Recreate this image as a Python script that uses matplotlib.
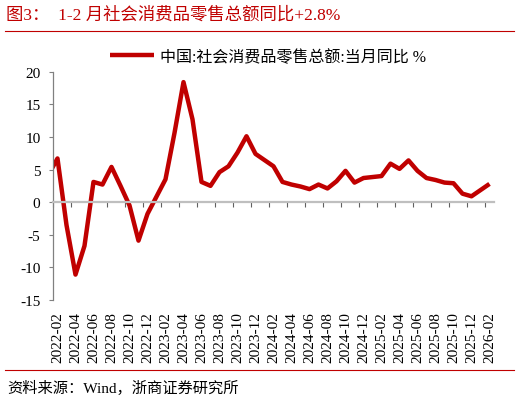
import numpy as np
import pandas as pd
import matplotlib
matplotlib.use('Agg')
import matplotlib.pyplot as plt
from matplotlib.lines import Line2D

plt.rcParams['font.family'] = ['Liberation Serif', 'Noto Sans CJK SC']
plt.rcParams['axes.unicode_minus'] = False

# monthly categories shown on the axis: 2022-02 .. 2026-02
months = [str(p) for p in pd.period_range('2022-02', '2026-02', freq='M')]

# reported months (China reports Jan-Feb together, so no January values)
obs_months = ['2021-12',
              '2022-02', '2022-03', '2022-04', '2022-05', '2022-06', '2022-07',
              '2022-08', '2022-09', '2022-10', '2022-11', '2022-12',
              '2023-02', '2023-03', '2023-04', '2023-05', '2023-06', '2023-07',
              '2023-08', '2023-09', '2023-10', '2023-11', '2023-12',
              '2024-02', '2024-03', '2024-04', '2024-05', '2024-06', '2024-07',
              '2024-08', '2024-09', '2024-10', '2024-11', '2024-12',
              '2025-02', '2025-03', '2025-04', '2025-05', '2025-06', '2025-07',
              '2025-08', '2025-09', '2025-10', '2025-11', '2025-12',
              '2026-02']
obs_values = [1.7,
              6.7, -3.5, -11.1, -6.7, 3.1, 2.7,
              5.4, 2.5, -0.5, -5.9, -1.8,
              3.5, 10.6, 18.4, 12.7, 3.1, 2.5,
              4.6, 5.5, 7.6, 10.1, 7.4,
              5.5, 3.1, 2.7, 2.4, 2.0, 2.7,
              2.1, 3.2, 4.8, 3.0, 3.7,
              4.0, 5.9, 5.1, 6.4, 4.8, 3.7,
              3.4, 3.0, 2.9, 1.3, 0.9,
              2.8]

series_name = '中国:社会消费品零售总额:当月同比 %'
title = '图3：  1-2 月社会消费品零售总额同比+2.8%'
source = '资料来源：Wind，浙商证券研究所'
red = '#C00000'

# category index of each observation (relative to 2022-02)
start = pd.Period('2022-02', freq='M')
xpos = [(pd.Period(m, freq='M') - start).n for m in obs_months]

fig = plt.figure(figsize=(5.2, 4.02), dpi=100)
ax = fig.add_axes([0.1019, 0.2512, 0.8481, 0.568])

ax.plot(xpos, obs_values, color=red, lw=3.2, solid_joinstyle='round',
        solid_capstyle='butt', label=series_name)

ax.set_xlim(-0.5, len(months) - 0.5)
ax.set_ylim(-15, 20)
ax.set_yticks(np.arange(-15, 21, 5))

for s in ['top', 'right']:
    ax.spines[s].set_visible(False)
ax.spines['left'].set_color('#808080')
ax.spines['left'].set_linewidth(0.9)
ax.spines['bottom'].set_position(('data', 0))
ax.spines['bottom'].set_color('#BFBFBF')
ax.spines['bottom'].set_linewidth(1.6)

ax.tick_params(axis='y', direction='out', length=3, width=0.8, color='#808080',
               labelsize=11, pad=6)
ax.set_xticks(np.arange(-0.5, len(months) - 1, 2), minor=True)
ax.set_xticks([])
ax.tick_params(axis='x', which='minor', direction='out', length=3.5, width=0.8,
               color='#606060')

# category labels sit at the bottom of the plot, not on the zero line
sec = ax.secondary_xaxis('bottom')
sec.set_xticks(np.arange(0, len(months), 2))
sec.set_xticklabels(months[::2], rotation=90, fontsize=11)
sec.tick_params(length=0, pad=8)
sec.spines['bottom'].set_visible(False)

fig.legend(loc='center', bbox_to_anchor=(0.515, 0.856), frameon=False,
           fontsize=11.5, handlelength=2.75, handletextpad=0.35)

fig.text(0.0115, 0.961, title, color=red, fontsize=12.5, va='center', ha='left')
fig.add_artist(Line2D([0.01, 0.988], [0.921, 0.921], color=red, lw=0.8))
fig.add_artist(Line2D([0.01, 0.988], [0.0771, 0.0771], color=red, lw=0.8))
fig.text(0.0135, 0.035, source, color='black', fontsize=11, va='center', ha='left')

fig.savefig('out.png', dpi=100)
